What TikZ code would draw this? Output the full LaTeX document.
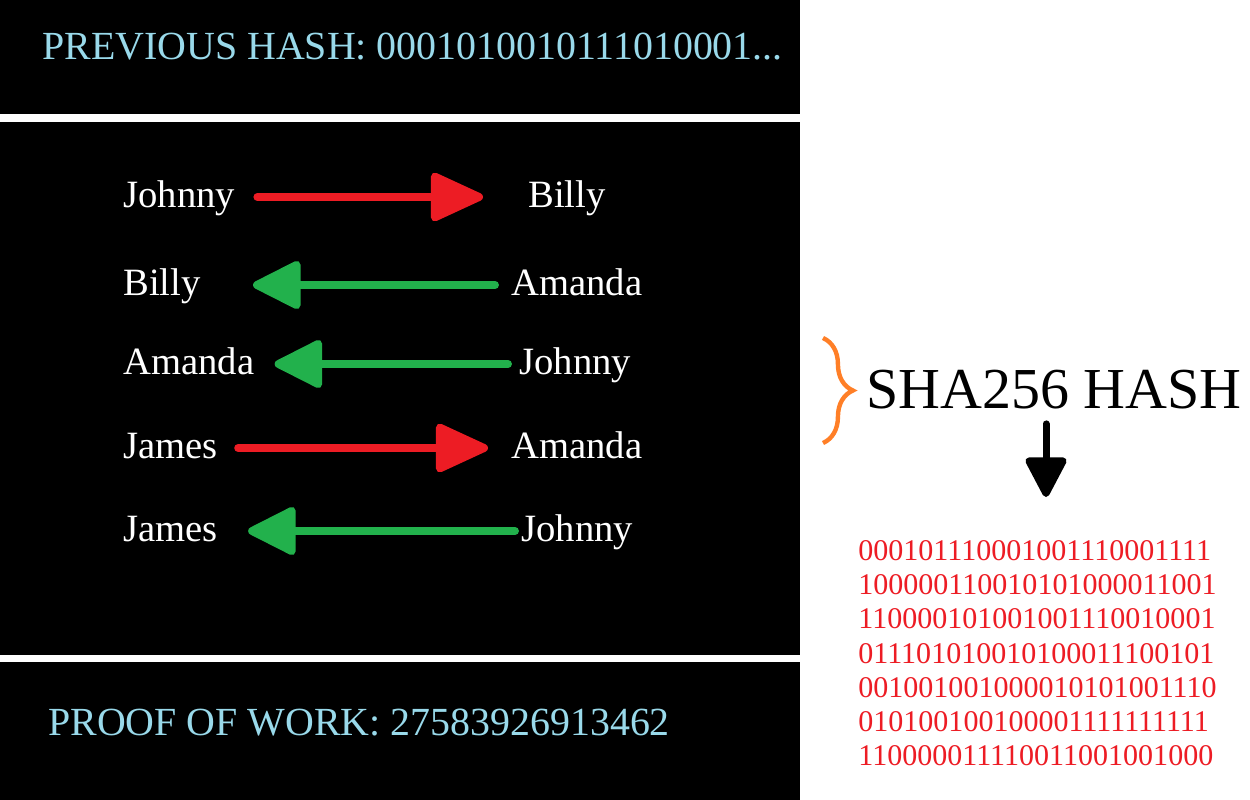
\documentclass[tikz,border=0pt]{standalone}
\usepackage{fontspec}
\setmainfont{Liberation Serif}
\usetikzlibrary{arrows.meta,decorations.pathreplacing}

\definecolor{paintred}{RGB}{237,28,36}
\definecolor{paintgreen}{RGB}{34,177,76}
\definecolor{paintorange}{RGB}{255,127,39}
\definecolor{hashblue}{RGB}{153,217,234}

\tikzset{
    person/.style={text=white, inner sep=0pt, anchor=west,
        font=\fontsize{22pt}{26pt}\selectfont, text height=14.5pt, text depth=2.2pt},
    header/.style={text=hashblue, inner sep=0pt, anchor=base west,
        font=\fontsize{22.7pt}{27pt}\selectfont},
    sendarrow/.style={draw=paintred, line width=4.5pt, line cap=round,
        -{Triangle[length=33pt,width=29pt,round]}},
    recvarrow/.style={draw=paintgreen, line width=4.5pt, line cap=round,
        -{Triangle[length=30pt,width=29pt,round]}},
    hasharrow/.style={draw=black, line width=4pt, line cap=round,
        -{Triangle[length=25pt,width=25pt,round]}}
}

\begin{document}
\begin{tikzpicture}[x=0.02cm, y=-0.02cm]
    \useasboundingbox (0,0) rectangle (1250,800);
    \fill[white] (0,0) rectangle (1250,800);

    % The block: three black panels
    \fill[black] (0,0) rectangle (800,114);
    \fill[black] (0,122) rectangle (800,655);
    \fill[black] (0,662) rectangle (800,800);

    \node[header] (prev) at (42,60) {PREVIOUS HASH: 0001010010111010001...};
    \node[header] (pow) at (48,735) {PROOF OF WORK: 27583926913462};

    % Transactions
    \node[person] (from1) at (123,197) {Johnny};
    \node[person] (to1)   at (528,197) {Billy};
    \node[person] (to2)   at (123,285) {Billy};
    \node[person] (from2) at (511,285) {Amanda};
    \node[person] (to3)   at (123,364) {Amanda};
    \node[person] (from3) at (519,364) {Johnny};
    \node[person] (from4) at (123,448) {James};
    \node[person] (to4)   at (511,448) {Amanda};
    \node[person] (to5)   at (123,531) {James};
    \node[person] (from5) at (521,531) {Johnny};

    \draw[sendarrow, shorten <=0.44cm, shorten >=0.9cm] (from1) -- (to1);
    \draw[recvarrow, shorten <=0.32cm, shorten >=1.04cm] (from2) -- (to2);
    \draw[recvarrow, shorten <=0.22cm, shorten >=0.4cm] (from3) -- (to3);
    \draw[sendarrow, shorten <=0.4cm, shorten >=0.46cm] (from4) -- (to4);
    \draw[recvarrow, shorten <=0.12cm, shorten >=0.6cm] (from5) -- (to5);

    % Hashing the block
    \draw[paintorange, line width=2.5pt, decorate,
        decoration={brace, amplitude=17pt}] (823,338) -- (823,443);
    \node[anchor=base west, inner sep=0pt,
        font=\fontsize{33pt}{38pt}\selectfont] (sha) at (866,408) {SHA256 HASH};

    \node[anchor=north west, inner sep=0pt, align=left, text=paintred,
        font=\fontsize{17.1pt}{19.5pt}\selectfont] (bits) at (858,540) {%
        000101110001001110001111\\
        100000110010101000011001\\
        110000101001001110010001\\
        011101010010100011100101\\
        001001001000010101001110\\
        010100100100001111111111\\
        110000011110011001001000};

    \draw[hasharrow, shorten <=0.3cm, shorten >=0.86cm]
        ([xshift=-0.16cm]sha.south) -- ([xshift=-0.16cm]sha.south |- bits.north);
\end{tikzpicture}
\end{document}
